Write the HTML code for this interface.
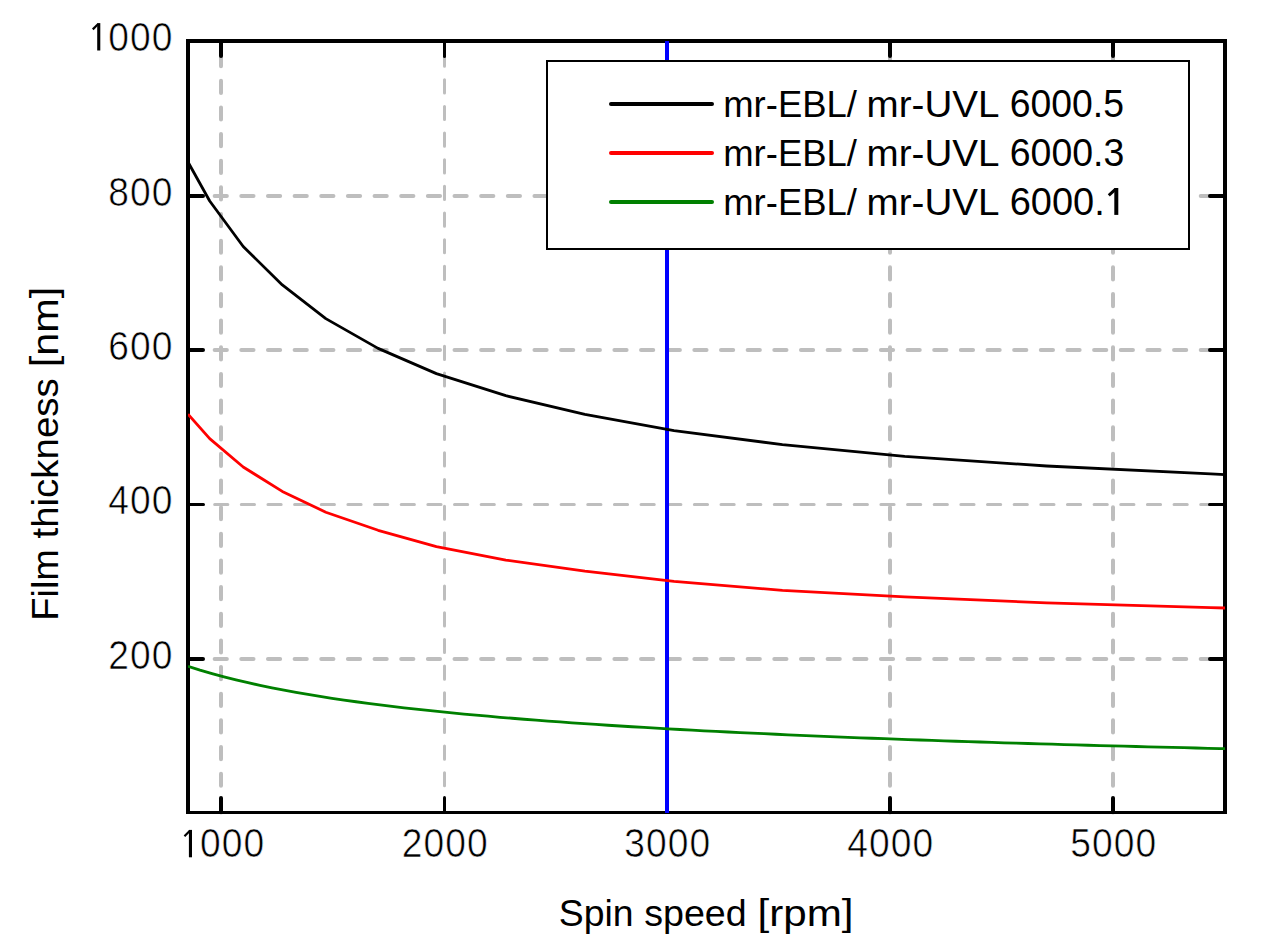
<!DOCTYPE html><html><head><meta charset="utf-8"><title>Spin curve</title>
<style>html,body{margin:0;padding:0;background:#fff;}svg{display:block;}text{font-family:"Liberation Sans",sans-serif;fill:#000;}.t{font-size:40.0px;stroke:#fff;stroke-width:0.6px;}.l{}</style></head><body>
<svg width="1270" height="952" viewBox="0 0 1270 952">
<rect width="1270" height="952" fill="#fff"/>
<g stroke="#bebebe" stroke-linecap="round" fill="none">
<line x1="188" y1="196" x2="1225" y2="196" stroke-width="4" stroke-dasharray="12.20 14.45"/>
<line x1="188" y1="350" x2="1225" y2="350" stroke-width="4" stroke-dasharray="12.20 14.45"/>
<line x1="188" y1="504.5" x2="1225" y2="504.5" stroke-width="3" stroke-dasharray="13.20 13.45"/>
<line x1="188" y1="659" x2="1225" y2="659" stroke-width="4" stroke-dasharray="12.20 14.45"/>
<line x1="221" y1="812.5" x2="221" y2="41" stroke-width="4" stroke-dasharray="12.20 14.45"/>
<line x1="444.5" y1="812.5" x2="444.5" y2="41" stroke-width="3" stroke-dasharray="13.20 13.45"/>
<line x1="890" y1="812.5" x2="890" y2="41" stroke-width="4" stroke-dasharray="12.20 14.45"/>
<line x1="1113" y1="812.5" x2="1113" y2="41" stroke-width="4" stroke-dasharray="12.20 14.45"/>
</g>
<g fill="#000">
<rect x="186" y="39" width="1041" height="4"/>
<rect x="186" y="811" width="1041" height="3"/>
<rect x="186" y="39" width="4" height="775"/>
<rect x="1223" y="39" width="4" height="775"/>
</g>
<g stroke="#000" stroke-linecap="round">
<line x1="221" y1="811" x2="221" y2="798.0" stroke-width="4"/>
<line x1="221" y1="42" x2="221" y2="56.0" stroke-width="4"/>
<line x1="444.5" y1="811" x2="444.5" y2="797.5" stroke-width="3"/>
<line x1="444.5" y1="42" x2="444.5" y2="56.5" stroke-width="3"/>
<line x1="667" y1="811" x2="667" y2="798.0" stroke-width="4"/>
<line x1="667" y1="42" x2="667" y2="56.0" stroke-width="4"/>
<line x1="890" y1="811" x2="890" y2="798.0" stroke-width="4"/>
<line x1="890" y1="42" x2="890" y2="56.0" stroke-width="4"/>
<line x1="1113" y1="811" x2="1113" y2="798.0" stroke-width="4"/>
<line x1="1113" y1="42" x2="1113" y2="56.0" stroke-width="4"/>
<line x1="189" y1="196" x2="203.0" y2="196" stroke-width="4"/>
<line x1="1224" y1="196" x2="1210.0" y2="196" stroke-width="4"/>
<line x1="189" y1="350" x2="203.0" y2="350" stroke-width="4"/>
<line x1="1224" y1="350" x2="1210.0" y2="350" stroke-width="4"/>
<line x1="189" y1="504.5" x2="203.5" y2="504.5" stroke-width="3"/>
<line x1="1224" y1="504.5" x2="1209.5" y2="504.5" stroke-width="3"/>
<line x1="189" y1="659" x2="203.0" y2="659" stroke-width="4"/>
<line x1="1224" y1="659" x2="1210.0" y2="659" stroke-width="4"/>
</g>
<rect x="665" y="41" width="4" height="772" fill="#0000ff"/>
<clipPath id="c"><rect x="188" y="41" width="1037" height="772"/></clipPath>
<g clip-path="url(#c)" fill="none" stroke-width="2.8" stroke-linejoin="round">
<polyline stroke="#000000" points="188.0,162.0 209.7,201.0 243.2,246.5 282.3,284.9 325.8,318.6 378.1,348.4 436.4,373.6 505.8,395.7 584.9,414.4 674.0,430.6 782.4,444.6 904.7,456.4 1046.6,466.0 1210.7,473.9 1225.0,474.7"/>
<polyline stroke="#ff0000" points="188.0,414.2 209.7,438.6 243.2,467.0 282.3,491.4 325.8,512.2 378.1,530.3 436.4,546.7 505.8,560.1 584.9,571.2 674.0,581.3 782.4,590.4 904.7,596.8 1046.6,602.9 1210.7,607.6 1225.0,608.0"/>
<polyline stroke="#008000" points="188.0,666.23 200.0,670.07 212.0,673.60 224.0,676.86 236.0,679.90 248.0,682.72 260.0,685.37 272.0,687.85 284.0,690.18 296.0,692.38 308.0,694.46 320.0,696.43 332.0,698.29 344.0,700.07 356.0,701.76 368.0,703.37 380.0,704.91 392.0,706.38 404.0,707.79 416.0,709.15 428.0,710.44 440.0,711.69 452.0,712.89 464.0,714.05 476.0,715.16 488.0,716.23 500.0,717.27 512.0,718.27 524.0,719.24 536.0,720.18 548.0,721.09 560.0,721.97 572.0,722.82 584.0,723.65 596.0,724.46 608.0,725.24 620.0,726.00 632.0,726.74 644.0,727.45 656.0,728.15 668.0,728.84 680.0,729.50 692.0,730.15 704.0,730.78 716.0,731.39 728.0,732.00 740.0,732.58 752.0,733.16 764.0,733.72 776.0,734.26 788.0,734.80 800.0,735.32 812.0,735.84 824.0,736.34 836.0,736.83 848.0,737.31 860.0,737.78 872.0,738.24 884.0,738.70 896.0,739.14 908.0,739.57 920.0,740.00 932.0,740.42 944.0,740.83 956.0,741.24 968.0,741.63 980.0,742.02 992.0,742.40 1004.0,742.78 1016.0,743.15 1028.0,743.51 1040.0,743.87 1052.0,744.22 1064.0,744.56 1076.0,744.90 1088.0,745.23 1100.0,745.56 1112.0,745.89 1124.0,746.20 1136.0,746.52 1148.0,746.83 1160.0,747.13 1172.0,747.43 1184.0,747.72 1196.0,748.01 1208.0,748.30 1220.0,748.58 1225.0,748.70"/>
</g>
<rect x="547" y="61" width="642" height="188" fill="#fff" stroke="#000" stroke-width="2"/>
<g stroke-width="4" stroke-linecap="round">
<line x1="611" y1="104" x2="712" y2="104" stroke="#000"/>
<line x1="611" y1="153" x2="712" y2="153" stroke="#ff0000"/>
<line x1="611" y1="202" x2="712" y2="202" stroke="#008000"/>
</g>
<text class="l" transform="translate(723.22,116.90) scale(0.9700,1)" font-size="37.6">mr-EBL/</text>
<text class="l" transform="translate(866.58,116.90) scale(1.0267,1)" font-size="37.6">mr-UVL</text>
<text class="l" transform="translate(723.22,165.80) scale(0.9700,1)" font-size="37.6">mr-EBL/</text>
<text class="l" transform="translate(866.58,165.80) scale(1.0267,1)" font-size="37.6">mr-UVL</text>
<text class="l" transform="translate(723.22,214.90) scale(0.9700,1)" font-size="37.6">mr-EBL/</text>
<text class="l" transform="translate(866.58,214.90) scale(1.0267,1)" font-size="37.6">mr-UVL</text>
<text class="l" transform="translate(1009.85,116.90) scale(0.9799,1)" font-size="38.1">6000.5</text>
<text class="l" transform="translate(1009.75,165.80) scale(0.9830,1)" font-size="38.1">6000.3</text>
<text class="l" transform="translate(1009.72,214.90) scale(0.9963,1)" font-size="38.1">6000.</text>
<path d="M1114.3,188h4v26.9h-4z" fill="#000"/><path d="M1115.6,189.2L1108.8,195.3" stroke="#000" stroke-width="3" fill="none"/>
<text class="l" transform="translate(558.80,926.40) scale(0.9946,1)" font-size="37.6">Spin</text>
<text class="l" transform="translate(644.14,926.40) scale(1.0008,1)" font-size="37.6">speed</text>
<text class="l" transform="translate(757.47,926.40) scale(1.1217,1)" font-size="37.6"><tspan dy="-1.9">[</tspan><tspan dy="1.9">rpm</tspan><tspan dy="-1.9">]</tspan></text>
<text class="l" transform="translate(58.00,620.68) rotate(-90) scale(1.0094,1)" font-size="37.6">Film</text>
<text class="l" transform="translate(58.00,538.52) rotate(-90) scale(1.0227,1)" font-size="37.6">thickness</text>
<text class="l" transform="translate(58.00,367.17) rotate(-90) scale(1.1003,1)" font-size="37.6"><tspan dy="-1.9">[</tspan><tspan dy="1.9">nm</tspan><tspan dy="-1.9">]</tspan></text>
<path d="M97.20,23.10h3.1v27.4h-3.1z" fill="#000"/><path d="M98.15,24.00L92.75,29.40" stroke="#000" stroke-width="2.2" fill="none"/><text class="t" transform="translate(118.70,50.50) scale(0.93,1)" text-anchor="middle">0</text><text class="t" transform="translate(140.40,50.50) scale(0.93,1)" text-anchor="middle">0</text><text class="t" transform="translate(162.10,50.50) scale(0.93,1)" text-anchor="middle">0</text>
<text class="t" transform="translate(118.70,205.50) scale(0.93,1)" text-anchor="middle">8</text><text class="t" transform="translate(140.40,205.50) scale(0.93,1)" text-anchor="middle">0</text><text class="t" transform="translate(162.10,205.50) scale(0.93,1)" text-anchor="middle">0</text>
<text class="t" transform="translate(118.70,359.50) scale(0.93,1)" text-anchor="middle">6</text><text class="t" transform="translate(140.40,359.50) scale(0.93,1)" text-anchor="middle">0</text><text class="t" transform="translate(162.10,359.50) scale(0.93,1)" text-anchor="middle">0</text>
<text class="t" transform="translate(118.70,514.00) scale(0.93,1)" text-anchor="middle">4</text><text class="t" transform="translate(140.40,514.00) scale(0.93,1)" text-anchor="middle">0</text><text class="t" transform="translate(162.10,514.00) scale(0.93,1)" text-anchor="middle">0</text>
<text class="t" transform="translate(118.70,668.50) scale(0.93,1)" text-anchor="middle">2</text><text class="t" transform="translate(140.40,668.50) scale(0.93,1)" text-anchor="middle">0</text><text class="t" transform="translate(162.10,668.50) scale(0.93,1)" text-anchor="middle">0</text>
<path d="M188.90,829.90h3.1v27.4h-3.1z" fill="#000"/><path d="M189.85,830.80L184.45,836.20" stroke="#000" stroke-width="2.2" fill="none"/><text class="t" transform="translate(210.40,857.30) scale(0.93,1)" text-anchor="middle">0</text><text class="t" transform="translate(232.10,857.30) scale(0.93,1)" text-anchor="middle">0</text><text class="t" transform="translate(253.80,857.30) scale(0.93,1)" text-anchor="middle">0</text>
<text class="t" transform="translate(412.20,857.30) scale(0.93,1)" text-anchor="middle">2</text><text class="t" transform="translate(433.90,857.30) scale(0.93,1)" text-anchor="middle">0</text><text class="t" transform="translate(455.60,857.30) scale(0.93,1)" text-anchor="middle">0</text><text class="t" transform="translate(477.30,857.30) scale(0.93,1)" text-anchor="middle">0</text>
<text class="t" transform="translate(634.70,857.30) scale(0.93,1)" text-anchor="middle">3</text><text class="t" transform="translate(656.40,857.30) scale(0.93,1)" text-anchor="middle">0</text><text class="t" transform="translate(678.10,857.30) scale(0.93,1)" text-anchor="middle">0</text><text class="t" transform="translate(699.80,857.30) scale(0.93,1)" text-anchor="middle">0</text>
<text class="t" transform="translate(857.70,857.30) scale(0.93,1)" text-anchor="middle">4</text><text class="t" transform="translate(879.40,857.30) scale(0.93,1)" text-anchor="middle">0</text><text class="t" transform="translate(901.10,857.30) scale(0.93,1)" text-anchor="middle">0</text><text class="t" transform="translate(922.80,857.30) scale(0.93,1)" text-anchor="middle">0</text>
<text class="t" transform="translate(1080.70,857.30) scale(0.93,1)" text-anchor="middle">5</text><text class="t" transform="translate(1102.40,857.30) scale(0.93,1)" text-anchor="middle">0</text><text class="t" transform="translate(1124.10,857.30) scale(0.93,1)" text-anchor="middle">0</text><text class="t" transform="translate(1145.80,857.30) scale(0.93,1)" text-anchor="middle">0</text>
</svg></body></html>
